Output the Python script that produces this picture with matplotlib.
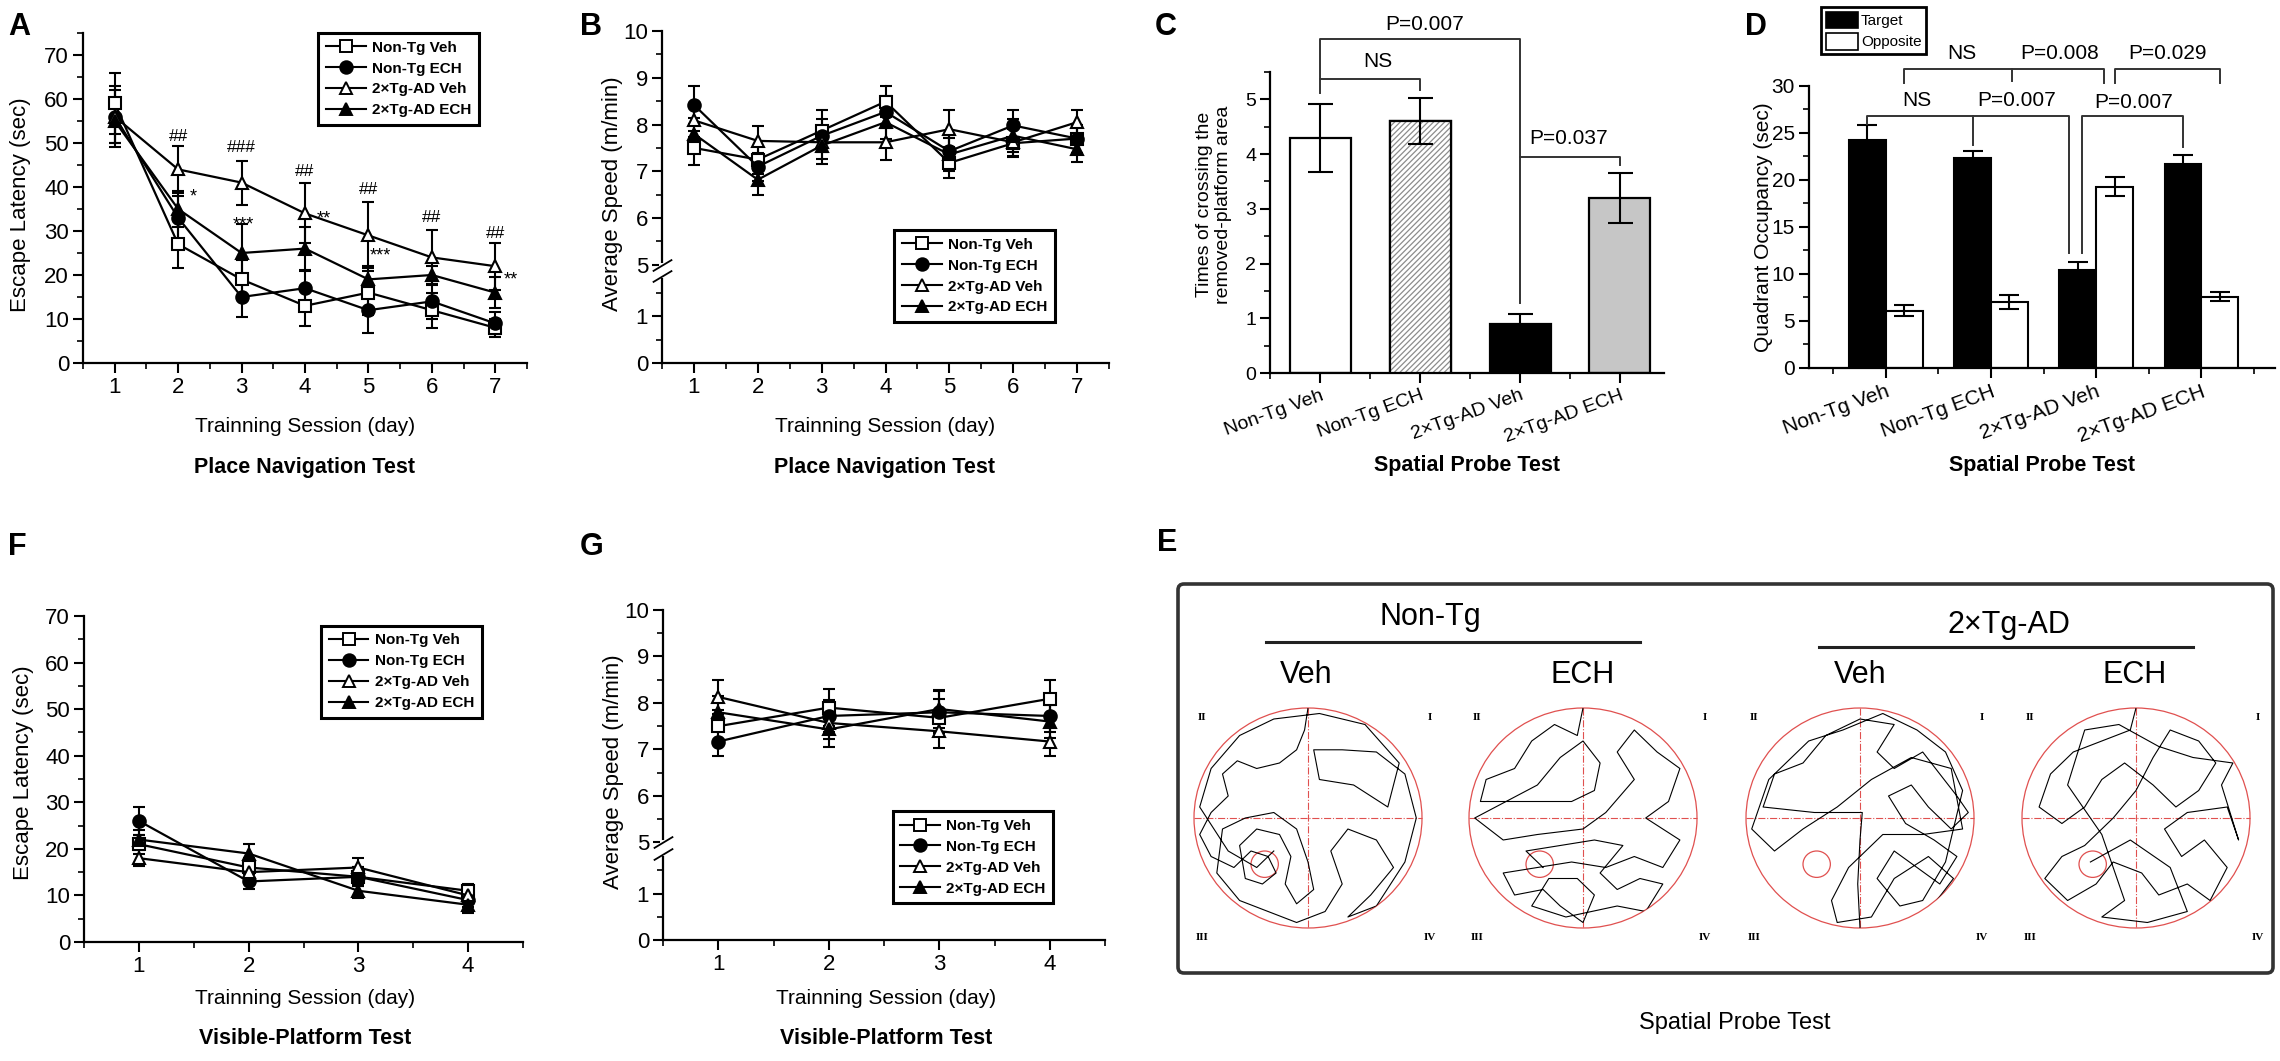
import numpy as np
import matplotlib
matplotlib.use('Agg')
import matplotlib.pyplot as plt
import matplotlib.transforms as mtransforms
from matplotlib.lines import Line2D
from matplotlib.patches import Patch, Ellipse, FancyBboxPatch
from matplotlib.ticker import MultipleLocator, FixedLocator, FormatStrFormatter

# ── Data ───────────────────────────────────────────────────────────────────
GROUPS = ['Non-Tg Veh', 'Non-Tg ECH', '2×Tg-AD Veh', '2×Tg-AD ECH']
DAYS_PLACE = [1, 2, 3, 4, 5, 6, 7]
DAYS_VISIBLE = [1, 2, 3, 4]

# A: escape latency, place navigation (rows follow GROUPS)
lat_place = [[59, 27, 19, 13, 16, 12, 8],
             [56, 33, 15, 17, 12, 14, 9],
             [56, 44, 41, 34, 29, 24, 22],
             [55, 35, 25, 26, 19, 20, 16]]
lat_place_err = [[7, 5.5, 4.5, 4.5, 5, 4, 2],
                 [7, 5, 4.5, 4.2, 5.2, 4, 2.5],
                 [6, 5.4, 5, 6.8, 7.5, 6.3, 5.3],
                 [5, 4, 6.5, 5, 3, 2, 3.5]]
hash_x = [2, 3, 4, 5, 6, 7]
hash_y = [51.5, 49, 43.5, 39.5, 33, 29.5]
hash_txt = ['##', '###', '##', '##', '##', '##']
star_x = [2.24, 3.03, 4.29, 5.19, 7.25]
star_y = [39.3, 33, 34.3, 26, 20.4]
star_txt = ['*', '***', '**', '***', '**']

# B: average speed, place navigation
spd_place = [[7.5, 7.25, 7.87, 8.49, 7.18, 7.6, 7.7],
             [8.42, 7.1, 7.76, 8.27, 7.43, 7.98, 7.7],
             [8.09, 7.65, 7.62, 7.62, 7.9, 7.62, 8.05],
             [7.8, 6.82, 7.55, 8.05, 7.36, 7.76, 7.47]]
spd_place_err = [[0.37, 0.3, 0.43, 0.33, 0.33, 0.3, 0.3],
                 [0.4, 0.3, 0.35, 0.35, 0.35, 0.32, 0.3],
                 [0.35, 0.32, 0.35, 0.37, 0.4, 0.3, 0.25],
                 [0.35, 0.32, 0.4, 0.35, 0.35, 0.35, 0.27]]

# C: platform crossings
cross_mean = [4.3, 4.6, 0.9, 3.2]
cross_err = [0.62, 0.42, 0.17, 0.45]

# D: quadrant occupancy
occ_target = [24.3, 22.3, 10.4, 21.7]
occ_target_err = [1.6, 0.8, 0.85, 1.0]
occ_opposite = [6.1, 7.0, 19.3, 7.6]
occ_opposite_err = [0.6, 0.75, 1.0, 0.5]

# F: escape latency, visible platform
lat_visible = [[21, 16, 14, 11],
               [26, 13, 14, 9],
               [18, 15, 16, 10],
               [22, 19, 11, 8]]
lat_visible_err = [[2, 2, 2, 1.5],
                   [3, 1.7, 2, 1.5],
                   [1.7, 2, 2, 1.5],
                   [2, 2, 1.5, 1.7]]

# G: average speed, visible platform
spd_visible = [[7.5, 7.9, 7.68, 8.09],
               [7.17, 7.72, 7.8, 7.72],
               [8.13, 7.57, 7.39, 7.17],
               [7.8, 7.43, 7.87, 7.6]]
spd_visible_err = [[0.35, 0.4, 0.4, 0.4],
                   [0.32, 0.35, 0.45, 0.35],
                   [0.37, 0.35, 0.35, 0.32],
                   [0.35, 0.38, 0.4, 0.35]]

# E: swim paths (unit-circle coordinates, rough tracing)
track_ntg_veh = [(0.0, 1.0), (-0.03, 0.8), (-0.1, 0.62), (-0.25, 0.5), (-0.45, 0.45), (-0.62, 0.52),
                 (-0.75, 0.4), (-0.7, 0.2), (-0.85, 0.05), (-0.95, -0.15), (-0.85, -0.35),
                 (-0.65, -0.45), (-0.5, -0.3), (-0.35, -0.35), (-0.28, -0.5), (-0.4, -0.6),
                 (-0.55, -0.55), (-0.6, -0.25), (-0.45, -0.1), (-0.25, -0.15), (-0.15, -0.35),
                 (-0.2, -0.6), (-0.1, -0.78), (0.05, -0.65), (0.0, -0.4), (-0.1, -0.1), (-0.3, 0.05),
                 (-0.55, 0.0), (-0.75, -0.1), (-0.8, -0.5), (-0.6, -0.75), (-0.35, -0.85),
                 (-0.1, -0.95), (0.15, -0.85), (0.3, -0.6), (0.2, -0.3), (0.35, -0.1), (0.6, -0.2),
                 (0.75, -0.45), (0.55, -0.7), (0.35, -0.9), (0.6, -0.8), (0.85, -0.4), (0.95, 0.0),
                 (0.85, 0.4), (0.6, 0.6), (0.3, 0.62), (0.05, 0.62), (0.1, 0.35), (0.4, 0.3),
                 (0.7, 0.1), (0.8, 0.5), (0.5, 0.85), (0.1, 0.95), (-0.3, 0.9), (-0.6, 0.75),
                 (-0.85, 0.45), (-0.95, 0.1), (-0.7, -0.3), (-0.45, -0.45), (-0.3, -0.3)]
track_ntg_ech = [(0.0, 1.0), (-0.05, 0.75), (-0.25, 0.85), (-0.45, 0.7), (-0.6, 0.45), (-0.85, 0.35),
                 (-0.9, 0.15), (-0.6, 0.15), (-0.1, 0.15), (0.1, 0.25), (0.15, 0.5), (0.0, 0.7),
                 (-0.2, 0.55), (-0.4, 0.3), (-0.95, 0.0), (-0.7, -0.2), (-0.4, -0.15), (0.0, -0.1),
                 (0.2, 0.05), (0.45, 0.35), (0.3, 0.6), (0.45, 0.8), (0.65, 0.6), (0.85, 0.45),
                 (0.75, 0.15), (0.55, 0.0), (0.85, -0.2), (0.7, -0.45), (0.45, -0.35), (0.2, -0.45),
                 (-0.1, -0.4), (-0.4, -0.45), (-0.7, -0.5), (-0.6, -0.7), (-0.35, -0.65),
                 (-0.2, -0.8), (0.0, -0.95), (0.1, -0.7), (-0.05, -0.55), (-0.3, -0.55),
                 (-0.45, -0.8), (-0.15, -0.9), (0.3, -0.8), (0.55, -0.85), (0.7, -0.6), (0.5, -0.55),
                 (0.3, -0.65), (0.15, -0.5), (0.35, -0.25), (0.1, -0.2), (-0.2, -0.25), (-0.5, -0.3),
                 (-0.35, -0.45)]
track_tg_veh = [(0.0, -1.0), (-0.02, -0.6), (0.0, -0.2), (0.02, 0.05), (-0.4, 0.05), (-0.85, 0.1),
                (-0.75, 0.4), (-0.5, 0.5), (-0.3, 0.75), (0.0, 0.9), (0.3, 0.85), (0.15, 0.6),
                (0.3, 0.45), (0.55, 0.6), (0.7, 0.4), (0.85, 0.2), (0.95, 0.05), (0.8, -0.1),
                (0.6, 0.1), (0.45, 0.3), (0.25, 0.2), (0.4, -0.05), (0.65, -0.2), (0.85, -0.35),
                (0.7, -0.6), (0.5, -0.45), (0.3, -0.3), (0.15, -0.55), (0.35, -0.8), (0.55, -0.75),
                (0.75, -0.4), (0.9, 0.25), (0.75, 0.6), (0.5, 0.8), (0.2, 0.95), (-0.15, 0.8),
                (-0.45, 0.7), (-0.8, 0.35), (-0.95, -0.1), (-0.75, -0.3), (-0.5, -0.1), (-0.2, 0.1),
                (0.1, 0.35), (0.45, 0.55), (0.8, 0.45), (0.9, -0.1), (0.55, -0.15), (0.2, -0.15),
                (-0.1, -0.45), (-0.25, -0.75), (-0.2, -0.95), (0.1, -0.9), (0.3, -0.55),
                (0.6, -0.35), (0.82, -0.55), (0.6, -0.85)]
track_tg_ech = [(0.0, 1.0), (-0.05, 0.8), (-0.3, 0.7), (-0.55, 0.6), (-0.75, 0.4), (-0.85, 0.1),
                (-0.65, -0.05), (-0.45, 0.1), (-0.3, 0.35), (-0.1, 0.5), (0.15, 0.3), (0.35, 0.1),
                (0.55, 0.25), (0.7, 0.5), (0.55, 0.7), (0.3, 0.8), (0.15, 0.55), (0.0, 0.25),
                (-0.2, 0.0), (-0.45, -0.25), (-0.65, -0.35), (-0.8, -0.55), (-0.6, -0.75),
                (-0.35, -0.6), (-0.2, -0.4), (0.05, -0.5), (0.2, -0.7), (0.45, -0.6), (0.65, -0.75),
                (0.8, -0.45), (0.6, -0.2), (0.4, -0.35), (0.25, -0.1), (0.45, 0.05), (0.8, 0.1),
                (0.9, -0.2), (0.75, 0.3), (0.85, 0.5), (0.5, 0.55), (0.2, 0.65), (-0.15, 0.85),
                (-0.45, 0.8), (-0.6, 0.3), (-0.3, -0.15), (-0.1, -0.75), (-0.3, -0.9), (0.1, -0.95),
                (0.45, -0.85), (0.3, -0.45), (-0.05, -0.2), (-0.4, -0.4)]
platform_rel = (-0.38, -0.42)

# ── Styling ────────────────────────────────────────────────────────────────
plt.rcParams.update({
    'font.family': ['Liberation Sans', 'DejaVu Sans'],
    'font.size': 14,
    'hatch.linewidth': 0.9,
})

W, H = 2280, 1061
fig = plt.figure(figsize=(W / 100, H / 100), dpi=100)


def px_box(x0, y0, x1, y1):
    return [x0 / W, 1 - y1 / H, (x1 - x0) / W, (y1 - y0) / H]


def ftext(x, y, s, **kw):
    fig.text(x / W, 1 - y / H, s, **kw)


def style(ax, tick_size=15):
    for s in ['top', 'right']:
        ax.spines[s].set_visible(False)
    for s in ['left', 'bottom']:
        ax.spines[s].set_linewidth(1.6)
    ax.tick_params(which='major', direction='out', length=7, width=1.5,
                   labelsize=tick_size, pad=3)
    ax.tick_params(which='minor', direction='out', length=4, width=1.2)


MARKERS = [('s', 'white'), ('o', 'black'), ('^', 'white'), ('^', 'black')]


def draw_lines(ax, days, means, errs):
    for (mk, fc), m, e in zip(MARKERS, means, errs):
        ax.errorbar(days, m, yerr=e, color='k', lw=1.6, marker=mk, mfc=fc, mec='k',
                    mew=1.5, ms=9, capsize=4, capthick=1.5, elinewidth=1.5)


def line_legend(ax, x, ytop):
    handles = [Line2D([], [], color='k', lw=1.5, marker=mk, mfc=fc, mec='k', mew=1.4, ms=9)
               for mk, fc in MARKERS]
    leg = ax.legend(handles, GROUPS, loc='upper left', bbox_to_anchor=(x, ytop),
                    borderaxespad=0, frameon=True, fancybox=False, edgecolor='k',
                    framealpha=1, prop={'weight': 'bold', 'size': 11}, handlelength=2.6,
                    labelspacing=0.45, borderpad=0.5, handletextpad=0.4)
    leg.get_frame().set_linewidth(2.2)


BRK_LO, BRK_HI = 2.1, 5.0


def fwd(y):
    y = np.asarray(y, dtype=float)
    return np.where(y <= BRK_LO, y, y - (BRK_HI - BRK_LO))


def inv(y):
    y = np.asarray(y, dtype=float)
    return np.where(y <= BRK_LO, y, y + (BRK_HI - BRK_LO))


def broken_speed_axis(ax):
    ax.set_yscale('function', functions=(fwd, inv))
    ax.set_ylim(0, 10)
    ax.yaxis.set_major_locator(FixedLocator([0, 1, 5, 6, 7, 8, 9, 10]))
    ax.yaxis.set_minor_locator(FixedLocator([0.5, 1.5, 5.5, 6.5, 7.5, 8.5, 9.5]))
    ax.yaxis.set_major_formatter(FormatStrFormatter('%d'))
    tr = mtransforms.blended_transform_factory(ax.transAxes, ax.transData)
    ax.plot([0, 0], [4.8, 4.98], color='white', lw=5, transform=tr, clip_on=False, zorder=6)
    ax.plot([0, 0], [4.76, 5.0], ls='', marker=[(-1, -0.6), (1, 0.6)], ms=14, mec='k',
            mew=1.3, transform=tr, clip_on=False, zorder=7)


def lower_titles(xc, y1, y2, t1, t2):
    ftext(xc, y1, t1, ha='center', va='center', fontsize=15)
    ftext(xc, y2, t2, ha='center', va='center', fontsize=15.5, fontweight='bold')


bk = dict(color='#333333', lw=1.4, clip_on=False, zorder=6)

# ─────────────────────────────────────────────────────────────────────────────
# A — escape latency, place navigation
# ─────────────────────────────────────────────────────────────────────────────
axA = fig.add_axes(px_box(83, 33, 527, 363))
style(axA, 16)
draw_lines(axA, DAYS_PLACE, lat_place, lat_place_err)
axA.set_xlim(0.5, 7.5)
axA.set_ylim(0, 75)
axA.set_xticks(DAYS_PLACE)
axA.set_yticks(range(0, 71, 10))
axA.xaxis.set_minor_locator(MultipleLocator(0.5))
axA.yaxis.set_minor_locator(MultipleLocator(5))
axA.set_ylabel('Escape Latency (sec)', fontsize=16)
axA.yaxis.set_label_coords(-0.118, 0.48)
for x, y, t in zip(hash_x, hash_y, hash_txt):
    axA.text(x, y, t, ha='center', va='center', fontsize=12.5)
for x, y, t in zip(star_x, star_y, star_txt):
    axA.annotate(t, (x, y), xytext=(0, -5), textcoords='offset points',
                 ha='center', va='center', fontsize=13)
line_legend(axA, 0.53, 1.0)
lower_titles(305, 427, 467, 'Trainning Session (day)', 'Place Navigation Test')

# ─────────────────────────────────────────────────────────────────────────────
# B — average speed, place navigation
# ─────────────────────────────────────────────────────────────────────────────
axB = fig.add_axes(px_box(662, 31, 1109, 363))
style(axB, 16)
draw_lines(axB, DAYS_PLACE, spd_place, spd_place_err)
broken_speed_axis(axB)
axB.set_xlim(0.5, 7.5)
axB.set_xticks(DAYS_PLACE)
axB.xaxis.set_minor_locator(MultipleLocator(0.5))
axB.set_ylabel('Average Speed (m/min)', fontsize=16)
axB.yaxis.set_label_coords(-0.087, 0.51)
line_legend(axB, 0.52, 0.40)
lower_titles(885, 427, 467, 'Trainning Session (day)', 'Place Navigation Test')

# ─────────────────────────────────────────────────────────────────────────────
# C — times of crossing the removed platform
# ─────────────────────────────────────────────────────────────────────────────
axC = fig.add_axes(px_box(1270, 72, 1664, 373))
style(axC, 14)
xc = np.arange(len(cross_mean))
faces = ['white', 'white', 'black', '#c6c6c6']
axC.bar(xc, cross_mean, width=0.61, color=faces, edgecolor='k', lw=1.6, zorder=2)
axC.bar(xc[1], cross_mean[1], width=0.61, color='white', edgecolor='#8c8c8c',
        hatch='//////', lw=0, zorder=3)
axC.bar(xc[1], cross_mean[1], width=0.61, fill=False, edgecolor='k', lw=1.6, zorder=4)
axC.errorbar(xc, cross_mean, yerr=cross_err, fmt='none', ecolor='k', elinewidth=1.5,
             capsize=9, capthick=1.5, zorder=5)
axC.set_xlim(-0.5, 3.44)
axC.set_ylim(0, 5.5)
axC.set_yticks(range(0, 6))
axC.yaxis.set_minor_locator(MultipleLocator(0.5))
axC.xaxis.set_minor_locator(MultipleLocator(0.5))
axC.set_xticks(xc)
axC.set_xticklabels(GROUPS, rotation=20, ha='right', va='top', rotation_mode='anchor',
                    fontsize=14)
axC.set_ylabel('Times of crossing the\nremoved-platform area', fontsize=14, linespacing=1.15)
axC.yaxis.set_label_coords(-0.096, 0.56)
axC.plot([xc[0], xc[0], xc[2], xc[2]], [5.11, 6.1, 6.1, 1.27], **bk)
axC.plot([xc[0], xc[1], xc[1]], [5.38, 5.38, 5.17], **bk)
axC.plot([xc[2], xc[3], xc[3]], [3.95, 3.95, 3.8], **bk)
axC.text(1.05, 6.36, 'P=0.007', ha='center', va='center', fontsize=15)
axC.text(0.58, 5.69, 'NS', ha='center', va='center', fontsize=15)
axC.text(2.49, 4.29, 'P=0.037', ha='center', va='center', fontsize=15)
ftext(1467, 465, 'Spatial Probe Test', ha='center', va='center', fontsize=15.5,
      fontweight='bold')

# ─────────────────────────────────────────────────────────────────────────────
# D — quadrant occupancy
# ─────────────────────────────────────────────────────────────────────────────
axD = fig.add_axes(px_box(1809, 86, 2275, 368))
style(axD, 15)
xd = np.arange(len(occ_target))
bw = 0.35
tgt = xd - bw / 2
opp = xd + bw / 2
axD.bar(tgt, occ_target, width=bw, color='black', edgecolor='k', lw=1.5, zorder=2)
axD.bar(opp, occ_opposite, width=bw, color='white', edgecolor='k', lw=1.5, zorder=2)
axD.errorbar(tgt, occ_target, yerr=occ_target_err, fmt='none', ecolor='k',
             elinewidth=1.5, capsize=7.5, capthick=1.5, zorder=3)
axD.errorbar(opp, occ_opposite, yerr=occ_opposite_err, fmt='none', ecolor='k',
             elinewidth=1.5, capsize=7.5, capthick=1.5, zorder=3)
axD.set_xlim(-0.73, 3.70)
axD.set_ylim(0, 30)
axD.set_yticks(range(0, 31, 5))
axD.yaxis.set_minor_locator(MultipleLocator(2.5))
axD.xaxis.set_minor_locator(MultipleLocator(0.5))
axD.set_xticks(xd)
axD.set_xticklabels(GROUPS, rotation=20, ha='right', va='top', rotation_mode='anchor',
                    fontsize=15)
axD.set_ylabel('Quadrant Occupancy (sec)', fontsize=15)
axD.yaxis.set_label_coords(-0.077, 0.5)
axD.plot([tgt[0], tgt[0], 1.74, 1.74], [26.0, 26.8, 26.8, 12.2], **bk)
axD.plot([tgt[1], tgt[1]], [23.7, 26.8], **bk)
axD.plot([1.865, 1.865, tgt[3], tgt[3]], [12.2, 26.8, 26.8, 23.5], **bk)
axD.plot([opp[0], opp[0], 2.07, 2.07], [30.3, 31.8, 31.8, 30.3], **bk)
axD.plot([1.2, 1.2], [30.5, 31.8], **bk)
axD.plot([opp[2], opp[2], opp[3], opp[3]], [30.3, 31.8, 31.8, 30.3], **bk)
for x, y, t in [(0.72, 33.5, 'NS'), (1.65, 33.5, 'P=0.008'), (2.68, 33.5, 'P=0.029'),
                (0.30, 28.5, 'NS'), (1.24, 28.5, 'P=0.007'), (2.36, 28.2, 'P=0.007')]:
    axD.text(x, y, t, ha='center', va='center', fontsize=15)
legD = axD.legend([Patch(fc='black', ec='k', lw=1.2), Patch(fc='white', ec='k', lw=1.2)],
                  ['Target', 'Opposite'], loc='upper left', bbox_to_anchor=(0.026, 1.28),
                  borderaxespad=0, frameon=True, fancybox=False, edgecolor='k', framealpha=1,
                  fontsize=11, handlelength=2.1, handleheight=1.3, labelspacing=0.3,
                  borderpad=0.3, handletextpad=0.2)
legD.get_frame().set_linewidth(2)
ftext(2042, 465, 'Spatial Probe Test', ha='center', va='center', fontsize=15.5,
      fontweight='bold')

# ─────────────────────────────────────────────────────────────────────────────
# F — escape latency, visible platform
# ─────────────────────────────────────────────────────────────────────────────
axF = fig.add_axes(px_box(84, 616, 523, 942))
style(axF, 16)
draw_lines(axF, DAYS_VISIBLE, lat_visible, lat_visible_err)
axF.set_xlim(0.5, 4.5)
axF.set_ylim(0, 70)
axF.set_xticks(DAYS_VISIBLE)
axF.set_yticks(range(0, 71, 10))
axF.xaxis.set_minor_locator(MultipleLocator(0.5))
axF.yaxis.set_minor_locator(MultipleLocator(5))
axF.set_ylabel('Escape Latency (sec)', fontsize=16)
axF.yaxis.set_label_coords(-0.114, 0.52)
line_legend(axF, 0.54, 0.97)
lower_titles(305, 998, 1038, 'Trainning Session (day)', 'Visible-Platform Test')

# ─────────────────────────────────────────────────────────────────────────────
# G — average speed, visible platform
# ─────────────────────────────────────────────────────────────────────────────
axG = fig.add_axes(px_box(663, 610, 1105, 940))
style(axG, 16)
draw_lines(axG, DAYS_VISIBLE, spd_visible, spd_visible_err)
broken_speed_axis(axG)
axG.set_xlim(0.5, 4.5)
axG.set_xticks(DAYS_VISIBLE)
axG.xaxis.set_minor_locator(MultipleLocator(0.5))
axG.set_ylabel('Average Speed (m/min)', fontsize=16)
axG.yaxis.set_label_coords(-0.088, 0.51)
line_legend(axG, 0.52, 0.39)
lower_titles(886, 998, 1038, 'Trainning Session (day)', 'Visible-Platform Test')

# ─────────────────────────────────────────────────────────────────────────────
# E — representative swim paths
# ─────────────────────────────────────────────────────────────────────────────
ex0, ey0, ex1, ey1 = 1176, 582, 2275, 975
axE = fig.add_axes(px_box(ex0, ey0, ex1, ey1))
axE.set_xlim(ex0, ex1)
axE.set_ylim(ey1, ey0)
axE.axis('off')
axE.add_patch(FancyBboxPatch((ex0 + 2, ey0 + 2), ex1 - ex0 - 4, ey1 - ey0 - 4,
                             boxstyle='round,pad=0,rounding_size=6', fc='none',
                             ec='#333333', lw=2.6, clip_on=False))
arena_cx = [1308, 1583, 1860, 2136]
arena_cy, rx, ry = 818, 114, 110
tracks = [track_ntg_veh, track_ntg_ech, track_tg_veh, track_tg_ech]
red = '#e0504f'
for cx, tr in zip(arena_cx, tracks):
    pts = np.array(tr)
    ell = Ellipse((cx, arena_cy), 2 * rx, 2 * ry, fc='none', ec=red, lw=0.9)
    axE.add_patch(ell)
    axE.plot([cx - rx, cx + rx], [arena_cy, arena_cy], color=red, lw=0.8, ls='-.')
    axE.plot([cx, cx], [arena_cy - ry, arena_cy + ry], color=red, lw=0.8, ls='-.')
    axE.add_patch(Ellipse((cx + platform_rel[0] * rx, arena_cy - platform_rel[1] * ry),
                          0.24 * rx, 0.24 * ry, fc='none', ec=red, lw=0.9))
    path, = axE.plot(cx + pts[:, 0] * rx, arena_cy - pts[:, 1] * ry, color='k', lw=0.8)
    path.set_clip_path(ell)
    for dx, dy, q in [(-106, -101, 'II'), (122, -101, 'I'), (-106, 119, 'III'), (122, 119, 'IV')]:
        axE.text(cx + dx, arena_cy + dy, q, ha='center', va='center', fontsize=8,
                 fontweight='bold', family='Liberation Serif')
axE.text(1430, 617, 'Non-Tg', ha='center', va='center', fontsize=22)
axE.plot([1266, 1640], [642, 642], color='#222222', lw=2.2)
axE.text(2009, 625, '2×Tg-AD', ha='center', va='center', fontsize=22)
axE.plot([1819, 2193], [647, 647], color='#222222', lw=2.2)
for x, t in [(1306, 'Veh'), (1583, 'ECH'), (1860, 'Veh'), (2135, 'ECH')]:
    axE.text(x, 675, t, ha='center', va='center', fontsize=22)
ftext(1735, 1023, 'Spatial Probe Test', ha='center', va='center', fontsize=17)

# ── Panel letters ──────────────────────────────────────────────────────────
for x, y, t in [(8, 12, 'A'), (580, 12, 'B'), (1155, 12, 'C'), (1745, 12, 'D'),
                (8, 532, 'F'), (580, 532, 'G'), (1157, 528, 'E')]:
    ftext(x, y, t, ha='left', va='top', fontsize=22, fontweight='bold')

fig.savefig('out.png', dpi=100, facecolor='white')
